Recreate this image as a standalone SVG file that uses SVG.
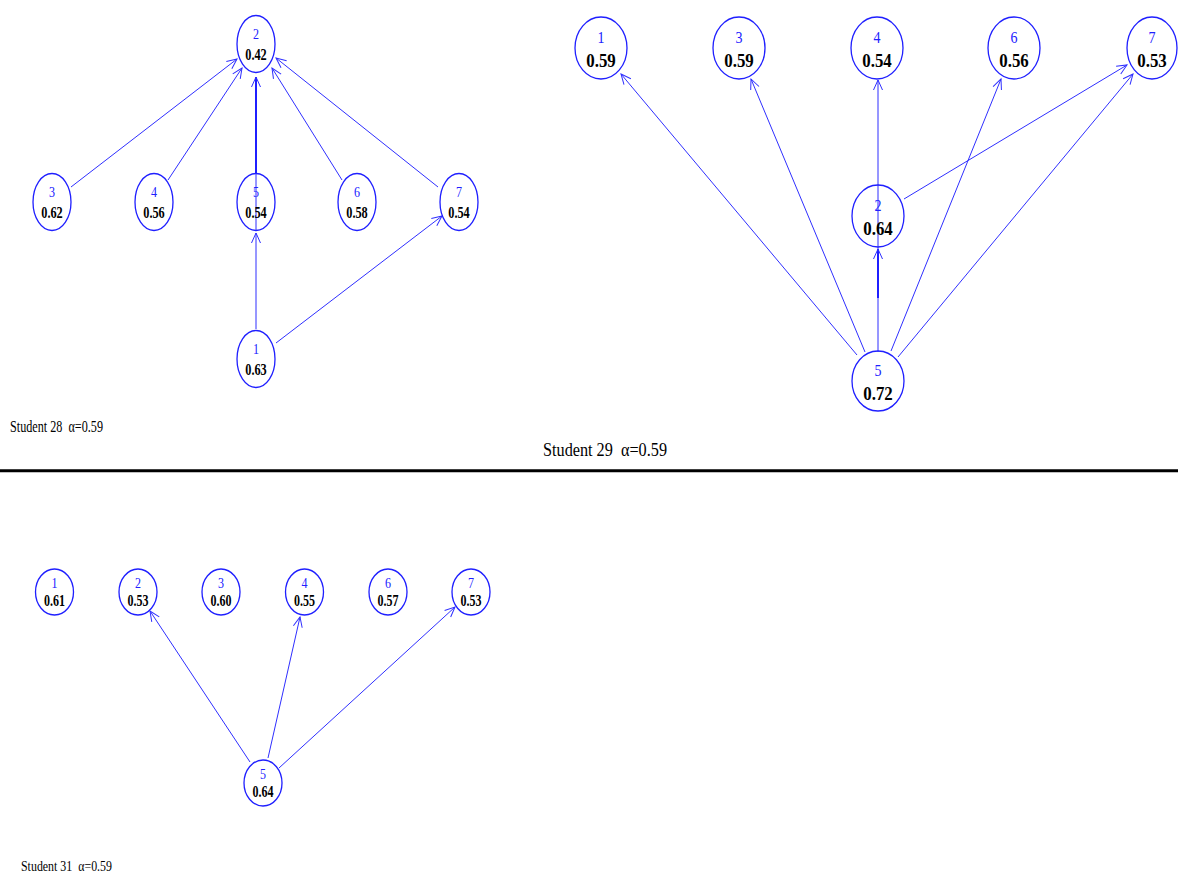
<svg xmlns="http://www.w3.org/2000/svg" width="1178" height="877" viewBox="0 0 1178 877">
<style>
.nd{fill:none;stroke:#1f1fff;stroke-width:1.3}
.e{fill:none;stroke:#2f2fff;stroke-width:1}
.eb{fill:none;stroke:#1f1fff;stroke-width:2}
.lb{font-family:"Liberation Serif","Times New Roman",serif;fill:#2020ff;text-anchor:middle}
.vl{font-family:"Liberation Serif","Times New Roman",serif;fill:#000;font-weight:bold;text-anchor:middle}
.s1{font-size:15px}
.v1{font-size:16px}
.s2{font-size:17px}
.v2{font-size:19px}
.cap{font-family:"Liberation Serif","Times New Roman",serif;fill:#000}
</style>
<defs>
<marker id="ar" viewBox="-11 -6 13 12" markerWidth="13" markerHeight="12" refX="0" refY="0" markerUnits="userSpaceOnUse" orient="auto">
<path d="M-10,-4.5 L0,0 L-10,4.5" fill="none" stroke="#2f2fff" stroke-width="1"/>
</marker>
</defs>
<rect width="1178" height="877" fill="#fff"/>

<g id="connectors">
<!-- Student 28 -->
<line class="e" x1="71" y1="187" x2="237" y2="59" marker-end="url(#ar)"/>
<line class="e" x1="168" y1="180" x2="242" y2="68" marker-end="url(#ar)"/>
<line class="e" x1="256" y1="231" x2="256" y2="173"/>
<line class="eb" x1="256" y1="173" x2="256" y2="77" marker-end="url(#ar)"/>
<line class="e" x1="342" y1="180" x2="272" y2="68" marker-end="url(#ar)"/>
<line class="e" x1="438" y1="187" x2="276" y2="58" marker-end="url(#ar)"/>
<line class="e" x1="256" y1="329" x2="256" y2="233" marker-end="url(#ar)"/>
<line class="e" x1="276" y1="343" x2="442" y2="216" marker-end="url(#ar)"/>
<!-- Student 29 -->
<line class="e" x1="857" y1="355" x2="621" y2="74" marker-end="url(#ar)"/>
<line class="e" x1="865" y1="352" x2="751" y2="79" marker-end="url(#ar)"/>
<line class="e" x1="878" y1="352" x2="878" y2="80" marker-end="url(#ar)"/>
<line class="eb" x1="878" y1="298" x2="878" y2="249" marker-end="url(#ar)"/>
<line class="e" x1="891" y1="351" x2="1001" y2="79" marker-end="url(#ar)"/>
<line class="e" x1="898" y1="357" x2="1133" y2="74" marker-end="url(#ar)"/>
<line class="e" x1="904" y1="199" x2="1127" y2="65" marker-end="url(#ar)"/>
<!-- Student 31 -->
<line class="e" x1="250" y1="762" x2="150" y2="611" marker-end="url(#ar)"/>
<line class="e" x1="268" y1="758" x2="300" y2="617" marker-end="url(#ar)"/>
<line class="e" x1="279" y1="768" x2="455" y2="607" marker-end="url(#ar)"/>
</g>

<!-- Student 28 nodes -->
<g id="s28-n2"><ellipse class="nd" cx="256" cy="44" rx="19" ry="28.5"/><text class="lb s1" x="256" y="38.5" textLength="6" lengthAdjust="spacingAndGlyphs">2</text><text class="vl v1" x="256" y="60" textLength="21.5" lengthAdjust="spacingAndGlyphs">0.42</text></g>
<g id="s28-n3"><ellipse class="nd" cx="52" cy="202" rx="19" ry="28.5"/><text class="lb s1" x="52" y="196.5" textLength="6" lengthAdjust="spacingAndGlyphs">3</text><text class="vl v1" x="52" y="218" textLength="21.5" lengthAdjust="spacingAndGlyphs">0.62</text></g>
<g id="s28-n4"><ellipse class="nd" cx="154" cy="202" rx="19" ry="28.5"/><text class="lb s1" x="154" y="196.5" textLength="6" lengthAdjust="spacingAndGlyphs">4</text><text class="vl v1" x="154" y="218" textLength="21.5" lengthAdjust="spacingAndGlyphs">0.56</text></g>
<g id="s28-n5"><ellipse class="nd" cx="256" cy="202" rx="19" ry="28.5"/><text class="lb s1" x="256" y="196.5" textLength="6" lengthAdjust="spacingAndGlyphs">5</text><text class="vl v1" x="256" y="218" textLength="21.5" lengthAdjust="spacingAndGlyphs">0.54</text></g>
<g id="s28-n6"><ellipse class="nd" cx="357" cy="202" rx="19" ry="28.5"/><text class="lb s1" x="357" y="196.5" textLength="6" lengthAdjust="spacingAndGlyphs">6</text><text class="vl v1" x="357" y="218" textLength="21.5" lengthAdjust="spacingAndGlyphs">0.58</text></g>
<g id="s28-n7"><ellipse class="nd" cx="459" cy="202" rx="19" ry="28.5"/><text class="lb s1" x="459" y="196.5" textLength="6" lengthAdjust="spacingAndGlyphs">7</text><text class="vl v1" x="459" y="218" textLength="21.5" lengthAdjust="spacingAndGlyphs">0.54</text></g>
<g id="s28-n1"><ellipse class="nd" cx="256" cy="359" rx="19" ry="28.5"/><text class="lb s1" x="256" y="353.5" textLength="6" lengthAdjust="spacingAndGlyphs">1</text><text class="vl v1" x="256" y="375" textLength="21.5" lengthAdjust="spacingAndGlyphs">0.63</text></g>
<text class="cap" x="10" y="432" font-size="17" textLength="93" lengthAdjust="spacingAndGlyphs">Student 28&#160; α=0.59</text>

<!-- Student 29 nodes -->
<g id="s29-n1"><ellipse class="nd" cx="601" cy="48" rx="26" ry="31"/><text class="lb s2" x="601" y="43" textLength="7" lengthAdjust="spacingAndGlyphs">1</text><text class="vl v2" x="601" y="66.5" textLength="29.5" lengthAdjust="spacingAndGlyphs">0.59</text></g>
<g id="s29-n3"><ellipse class="nd" cx="739" cy="48" rx="26" ry="31"/><text class="lb s2" x="739" y="43" textLength="7" lengthAdjust="spacingAndGlyphs">3</text><text class="vl v2" x="739" y="66.5" textLength="29.5" lengthAdjust="spacingAndGlyphs">0.59</text></g>
<g id="s29-n4"><ellipse class="nd" cx="877" cy="48" rx="26" ry="31"/><text class="lb s2" x="877" y="43" textLength="7" lengthAdjust="spacingAndGlyphs">4</text><text class="vl v2" x="877" y="66.5" textLength="29.5" lengthAdjust="spacingAndGlyphs">0.54</text></g>
<g id="s29-n6"><ellipse class="nd" cx="1014" cy="48" rx="26" ry="31"/><text class="lb s2" x="1014" y="43" textLength="7" lengthAdjust="spacingAndGlyphs">6</text><text class="vl v2" x="1014" y="66.5" textLength="29.5" lengthAdjust="spacingAndGlyphs">0.56</text></g>
<g id="s29-n7"><ellipse class="nd" cx="1152" cy="48" rx="25" ry="31"/><text class="lb s2" x="1152" y="43" textLength="7" lengthAdjust="spacingAndGlyphs">7</text><text class="vl v2" x="1152" y="66.5" textLength="29.5" lengthAdjust="spacingAndGlyphs">0.53</text></g>
<g id="s29-n2"><ellipse class="nd" cx="878" cy="216" rx="26" ry="31"/><text class="lb s2" x="878" y="211" textLength="7" lengthAdjust="spacingAndGlyphs">2</text><text class="vl v2" x="878" y="234.5" textLength="29.5" lengthAdjust="spacingAndGlyphs">0.64</text></g>
<g id="s29-n5"><ellipse class="nd" cx="878" cy="381" rx="26" ry="30"/><text class="lb s2" x="878" y="376" textLength="7" lengthAdjust="spacingAndGlyphs">5</text><text class="vl v2" x="878" y="399.5" textLength="29.5" lengthAdjust="spacingAndGlyphs">0.72</text></g>
<text class="cap" x="543" y="456" font-size="19" textLength="124" lengthAdjust="spacingAndGlyphs">Student 29&#160; α=0.59</text>

<line x1="0" y1="470.8" x2="1178" y2="470.8" stroke="#000" stroke-width="3"/>

<!-- Student 31 nodes -->
<g id="s31-n1"><ellipse class="nd" cx="54.5" cy="592" rx="19" ry="23"/><text class="lb s1" x="54.5" y="588" textLength="6" lengthAdjust="spacingAndGlyphs">1</text><text class="vl v1" x="54.5" y="605.5" textLength="21" lengthAdjust="spacingAndGlyphs">0.61</text></g>
<g id="s31-n2"><ellipse class="nd" cx="138" cy="592" rx="19" ry="23"/><text class="lb s1" x="138" y="588" textLength="6" lengthAdjust="spacingAndGlyphs">2</text><text class="vl v1" x="138" y="605.5" textLength="21" lengthAdjust="spacingAndGlyphs">0.53</text></g>
<g id="s31-n3"><ellipse class="nd" cx="221" cy="592" rx="19" ry="23"/><text class="lb s1" x="221" y="588" textLength="6" lengthAdjust="spacingAndGlyphs">3</text><text class="vl v1" x="221" y="605.5" textLength="21" lengthAdjust="spacingAndGlyphs">0.60</text></g>
<g id="s31-n4"><ellipse class="nd" cx="304.5" cy="592" rx="19" ry="23"/><text class="lb s1" x="304.5" y="588" textLength="6" lengthAdjust="spacingAndGlyphs">4</text><text class="vl v1" x="304.5" y="605.5" textLength="21" lengthAdjust="spacingAndGlyphs">0.55</text></g>
<g id="s31-n6"><ellipse class="nd" cx="388" cy="592" rx="19" ry="23"/><text class="lb s1" x="388" y="588" textLength="6" lengthAdjust="spacingAndGlyphs">6</text><text class="vl v1" x="388" y="605.5" textLength="21" lengthAdjust="spacingAndGlyphs">0.57</text></g>
<g id="s31-n7"><ellipse class="nd" cx="471" cy="592" rx="19" ry="23"/><text class="lb s1" x="471" y="588" textLength="6" lengthAdjust="spacingAndGlyphs">7</text><text class="vl v1" x="471" y="605.5" textLength="21" lengthAdjust="spacingAndGlyphs">0.53</text></g>
<g id="s31-n5"><ellipse class="nd" cx="263" cy="783" rx="19" ry="23"/><text class="lb s1" x="263" y="779" textLength="6" lengthAdjust="spacingAndGlyphs">5</text><text class="vl v1" x="263" y="796.5" textLength="21" lengthAdjust="spacingAndGlyphs">0.64</text></g>
<text class="cap" x="21" y="871" font-size="15" textLength="91" lengthAdjust="spacingAndGlyphs">Student 31&#160; α=0.59</text>
</svg>
